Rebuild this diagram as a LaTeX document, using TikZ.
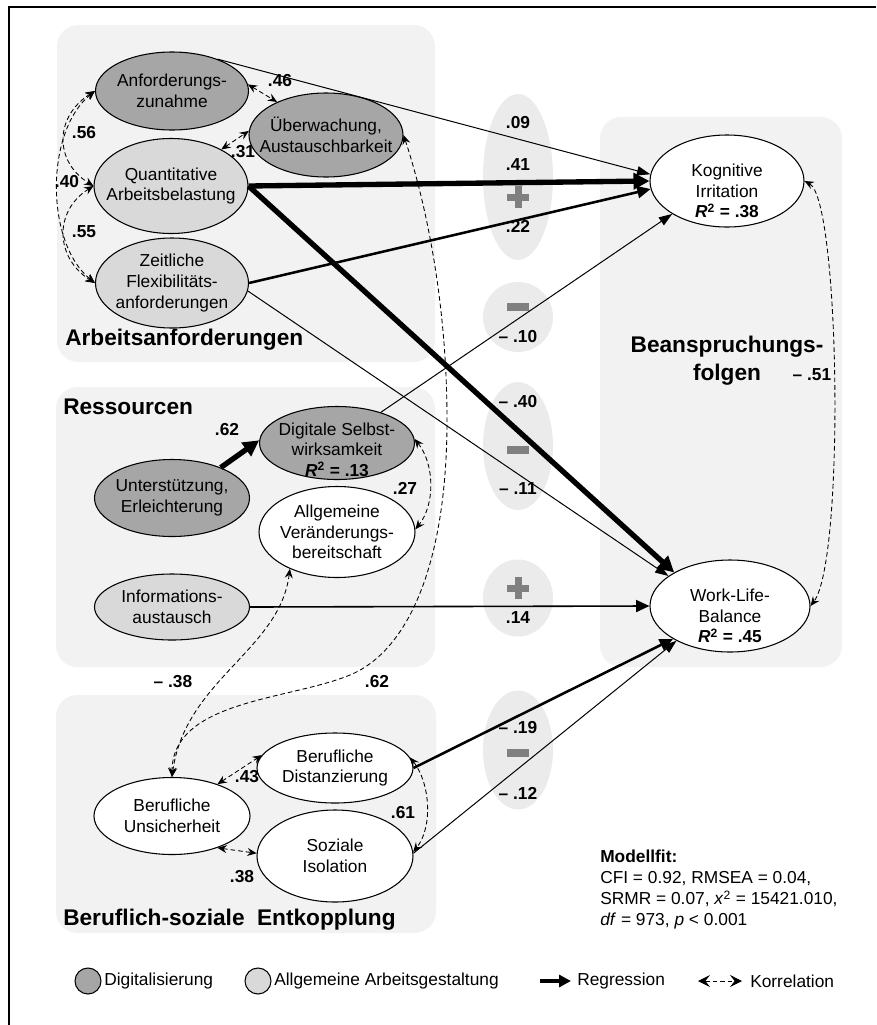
\documentclass[tikz,border=0pt]{standalone}
\usepackage{fontspec}
\setmainfont{Liberation Sans}
\usetikzlibrary{shapes.geometric,arrows.meta}

\definecolor{dunkelgrau}{HTML}{A6A6A6}
\definecolor{hellgrau}{HTML}{D9D9D9}
\definecolor{kastengrau}{HTML}{F2F2F2}
\definecolor{zeichengrund}{HTML}{EBEBEB}
\definecolor{zeichengrau}{HTML}{808080}

\newcommand{\fs}{\fontsize{13}{15.5}\selectfont}
\newcommand{\zs}{\fontsize{13}{14}\selectfont\bfseries}
\newcommand{\hs}{\fontsize{17}{21}\selectfont\bfseries}
\newcommand{\Rzwei}[1]{\textbf{\textit{R}\textsuperscript{2} = #1}}
\newcommand{\pluszeichen}[2]{%
  \fill[zeichengrau] (#1-11,#2-3.5) rectangle (#1+11,#2+3.5);
  \fill[zeichengrau] (#1-3.5,#2-11) rectangle (#1+3.5,#2+11);}
\newcommand{\minuszeichen}[2]{%
  \fill[zeichengrau] (#1-11,#2-4) rectangle (#1+11,#2+4);}

\tikzset{
  lat/.style={ellipse, draw, line width=0.8pt, inner sep=0pt},
  gr/.style 2 args={minimum width=#1*0.75pt, minimum height=#2*0.75pt},
  digi/.style={lat, fill=dunkelgrau},
  allg/.style={lat, fill=hellgrau},
  leer/.style={lat, fill=white},
  txt/.style={label={[align=center, font=\fs]center:{#1}}},
  txtr/.style 2 args={label={[align=center, font=\fs, yshift=#1]center:{#2}}},
  gruppe/.style={fill=kastengrau, rounded corners=16pt},
  vz/.style={ellipse, fill=zeichengrund, inner sep=0pt},
  zahl/.style={font=\zs, inner sep=0pt},
  titel/.style={font=\hs, inner sep=0pt, anchor=west},
  rdick/.style={line width=4pt, -{Triangle[length=12pt, width=12pt]}},
  rmittel/.style={line width=1.9pt, -{Triangle[length=10pt, width=9pt]}},
  rschmal/.style={line width=1.2pt, -{Triangle[length=10pt, width=9pt]}},
  rduenn/.style={line width=0.75pt, -{Triangle[length=10pt, width=7pt]}},
  kspitze/.tip={Stealth[length=7pt, width=6pt, inset=2.5pt]},
  lspitze/.tip={Stealth[length=9pt, width=9pt, inset=3.5pt]},
  korr/.style={line width=0.65pt, dash pattern=on 3.5pt off 2.2pt, kspitze-kspitze},
}

\begin{document}
\begin{tikzpicture}[x=0.75pt, y=-0.75pt]
    \useasboundingbox (0,0) rectangle (876,1025);
    \def\zx{518}

    % Rahmen
    \draw[line width=2pt] (9,1025) -- (9,7) -- (876,7);

    % Gruppenkaesten
    \fill[gruppe] (57,25) rectangle (435,362);
    \fill[gruppe] (56,387) rectangle (435,667);
    \fill[gruppe] (56,695) rectangle (436,933);
    \fill[gruppe] (600,117) rectangle (842,667);

    % Vorzeichen
    \node[vz, gr={70}{166}] (vz1) at (\zx,177) {};
    \node[vz, gr={70}{70}] (vz2) at (\zx,317) {};
    \node[vz, gr={70}{128}] (vz3) at (\zx,446) {};
    \node[vz, gr={70}{77}] (vz4) at (\zx,598) {};
    \node[vz, gr={70}{119}] (vz5) at (\zx,750) {};
    \pluszeichen{\zx}{197}
    \minuszeichen{\zx}{307}
    \minuszeichen{\zx}{450}
    \pluszeichen{\zx}{588}
    \minuszeichen{\zx}{753}

    % Arbeitsanforderungen
    \node[digi, gr={153}{78}, txt={Anforderungs-\\zunahme}] (az) at (172,91) {};
    \node[digi, gr={154}{84}, txt={\"Uberwachung,\\Austauschbarkeit}] (ua) at (326,135) {};
    \node[allg, gr={154}{95}, txt={Quantitative\\Arbeitsbelastung}] (qa) at (171,186) {};
    \node[allg, gr={153}{90}, txt={Zeitliche\\Flexibilit\"ats-\\anforderungen}] (zf) at (172,283) {};
    \node[titel] (t1) at (65,340) {Arbeitsanforderungen};

    % Ressourcen
    \node[titel] (t2) at (63,407) {Ressourcen};
    \node[digi, gr={155}{73}, txtr={-5pt}{Digitale Selbst-\\wirksamkeit\\\Rzwei{.13}}] (ds) at (337,443) {};
    \node[digi, gr={155}{77}, txt={Unterst\"utzung,\\Erleichterung}] (ue) at (172,498) {};
    \node[leer, gr={156}{91}, txt={Allgemeine\\Ver\"anderungs-\\bereitschaft}] (av) at (337,532) {};
    \node[allg, gr={155}{66}, txt={Informations-\\austausch}] (ia) at (172,607) {};

    % Entkopplung
    \node[leer, gr={156}{70}, txt={Berufliche\\Distanzierung}] (bd) at (335,768) {};
    \node[leer, gr={156}{77}, txt={Berufliche\\Unsicherheit}] (bu) at (172,816) {};
    \node[leer, gr={156}{92}, txt={Soziale\\Isolation}] (si) at (335,856) {};
    \node[titel] (t3) at (63,920) {Beruflich-soziale\hspace{0.55em}Entkopplung};

    % Beanspruchungsfolgen
    \node[leer, gr={154}{92}, txtr={-7.5pt}{Kognitive\\Irritation\\\Rzwei{.38}}] (ki) at (727,181) {};
    \node[leer, gr={160}{92}, txtr={-7.5pt}{Work-Life-\\Balance\\\Rzwei{.45}}] (wl) at (730,606) {};
    \node[font=\hs, align=center, inner sep=0pt] (t4) at (727,361) {Beanspruchungs-\\folgen};

    % Regressionen
    \draw[rduenn] (az.35) -- (ki.175);
    \draw[rdick] (qa.east) -- (ki.west);
    \draw[rmittel] (zf.east) -- (ki.186);
    \draw[rduenn] (zf.-6) -- (wl.154);
    \draw[rdick] (qa.east) -- (wl.149);
    \draw[rduenn] (ds.35) -- (ki.211);
    \draw[rdick] (ue.32) -- (ds.178);
    \draw[rschmal] (ia.east) -- (wl.west);
    \draw[rmittel] (bd.east) -- (wl.210);
    \draw[rduenn] (si.2) -- (wl.213);

    % Korrelationen
    \draw[korr] (az.west) .. controls +(-40,25) and +(-40,-25) .. (qa.west);
    \draw[korr] (qa.west) .. controls +(-40,25) and +(-40,-25) .. (zf.west);
    \draw[korr] (az.west) .. controls +(-50,40) and +(-50,-40) .. (zf.west);
    \draw[korr] (az.5) -- (ua.146);
    \draw[korr] (qa.36) -- (ua.177);
    \draw[korr] (ua.east) .. controls (425,200) and (447,300) .. (447,420)
        .. controls (447,560) and (410,650) .. (350,675)
        .. controls (290,700) and (172,700) .. (bu.north);
    \draw[korr] (ds.3) .. controls +(20,25) and +(20,-25) .. (av.2);
    \draw[korr] (av.218) .. controls (280,650) and (185,680) .. (bu.north);
    \draw[korr] (bu.35) -- (bd.170);
    \draw[korr] (bu.-35) -- (si.178);
    \draw[korr] (bd.8) .. controls +(20,25) and +(20,-25) .. (si.3);
    \draw[korr] (ki.east) .. controls (840,200) and (845,560) .. (wl.east);

    % Koeffizienten
    \node[zahl] (k01) at (\zx,123) {.09};
    \node[zahl] (k02) at (\zx,165) {.41};
    \node[zahl] (k03) at (\zx,226) {.22};
    \node[zahl] (k04) at (\zx,337) {-- .10};
    \node[zahl] (k05) at (\zx,402) {-- .40};
    \node[zahl] (k06) at (\zx,489) {-- .11};
    \node[zahl] (k07) at (\zx,618) {.14};
    \node[zahl] (k08) at (\zx,728) {-- .19};
    \node[zahl] (k09) at (\zx,793) {-- .12};
    \node[zahl] (k10) at (84,133) {.56};
    \node[zahl] (k11) at (67,182) {.40};
    \node[zahl] (k12) at (84,232) {.55};
    \node[zahl] (k13) at (280,81) {.46};
    \node[zahl] (k14) at (243,152) {.31};
    \node[zahl] (k15) at (227,430) {.62};
    \node[zahl] (k16) at (405,488) {.27};
    \node[zahl] (k17) at (173,682) {-- .38};
    \node[zahl] (k18) at (377,682) {.62};
    \node[zahl] (k19) at (247,777) {.43};
    \node[zahl] (k20) at (242,877) {.38};
    \node[zahl] (k21) at (403,813) {.61};
    \node[zahl] (k22) at (812,375) {-- .51};

    % Modellfit
    \node[anchor=north west, align=left, inner sep=0pt, font=\fontsize{13}{15.75}\selectfont] (mf) at (600,850)
        {\textbf{Modellfit:}\\CFI = 0.92, RMSEA = 0.04,\\SRMR = 0.07, \textit{x}\textsuperscript{2} = 15421.010,\\\textit{df} = 973, \textit{p} < 0.001};

    % Legende
    \node[digi, circle, minimum size=19.5pt] (lg1) at (88,981) {};
    \node[anchor=west, font=\fs, inner sep=0pt] (lg1t) at (104,981) {Digitalisierung};
    \node[allg, circle, minimum size=19.5pt] (lg2) at (258,981) {};
    \node[anchor=west, font=\fs, inner sep=0pt] (lg2t) at (274,981) {Allgemeine Arbeitsgestaltung};
    \coordinate (lr1) at (540,981);
    \coordinate (lr2) at (571,981);
    \draw[line width=2.4pt, -{Triangle[length=9pt, width=9pt]}] (lr1) -- (lr2);
    \node[anchor=west, font=\fs, inner sep=0pt] (lg3t) at (577,981) {Regression};
    \coordinate (lk1) at (698,981);
    \coordinate (lk2) at (742,981);
    \draw[korr, lspitze-lspitze] (lk1) -- (lk2);
    \node[anchor=west, font=\fs, inner sep=0pt] (lg4t) at (750,981) {Korrelation};
\end{tikzpicture}
\end{document}
